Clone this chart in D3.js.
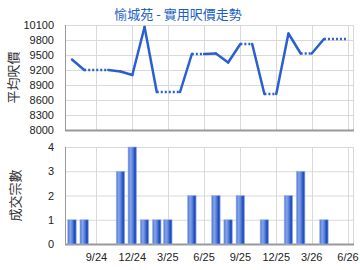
<!DOCTYPE html>
<html>
<head>
<meta charset="utf-8">
<script src="https://cdn.jsdelivr.net/npm/d3@7"></script>
<style>
  body { margin: 0; background: #fff; }
  svg { display: block; font-family: "Liberation Sans", Arial, sans-serif; }
</style>
</head>
<body>
<div id="chart"></div>
<script>
// monthly data, Jul 2024 .. Jun 2026
const months = ["2024-07","2024-08","2024-09","2024-10","2024-11","2024-12",
  "2025-01","2025-02","2025-03","2025-04","2025-05","2025-06",
  "2025-07","2025-08","2025-09","2025-10","2025-11","2025-12",
  "2026-01","2026-02","2026-03","2026-04","2026-05","2026-06"];
// average price per sq ft (null = no record that month)
const prices = [9410, 9200, null, null, 9170, 9100,
  10060, 8760, null, null, 9520, null,
  9530, 9350, 9720, null, 8720, null,
  9930, 9530, null, 9820, null, null];
// number of transactions
const deals = [1, 1, 0, 0, 3, 4,
  1, 1, 1, 0, 2, 0,
  2, 1, 2, 0, 1, 0,
  2, 3, 0, 1, 0, 0];
const priceTicks = [8000, 8300, 8600, 8900, 9200, 9500, 9800, 10100];
const dealTicks = [0, 1, 2, 3, 4];
const xTickMonths = ["2024-09","2024-12","2025-03","2025-06","2025-09","2025-12","2026-03","2026-06"];

const width = 360, height = 270;
const left = 65, right = 353;
const top1 = 25, bottom1 = 130;
const top2 = 147, bottom2 = 244;

const parse = d3.timeParse("%Y-%m");
const dates = months.map(parse);

const svg = d3.select("#chart")
  .append("svg")
    .attr("width", width)
    .attr("height", height)
    .attr("viewBox", `0 0 ${width} ${height}`);

const x = d3.scaleTime()
  .domain([dates[0], dates[dates.length - 1]])
  .range([72, 348]);

const yPrice = d3.scaleLinear().domain([8000, 10100]).range([bottom1, top1]);
const yDeals = d3.scaleLinear().domain([0, 4]).range([bottom2, top2]);

// bar gradient
const defs = svg.append("defs");
const grad = defs.append("linearGradient").attr("id", "barGrad")
  .attr("x1", "0%").attr("x2", "100%").attr("y1", "0%").attr("y2", "0%");
[["0%", "#4a74d4"], ["30%", "#86a5e8"], ["55%", "#5a80da"], ["80%", "#1f4cbc"], ["100%", "#3a66cc"]]
  .forEach(s => grad.append("stop").attr("offset", s[0]).attr("stop-color", s[1]));

// grids for both panels
function drawGrid(yScale, ticks, top, bottom) {
  const g = svg.append("g");
  g.selectAll(".hg").data(ticks).join("line")
    .attr("x1", left).attr("x2", right)
    .attr("y1", d => yScale(d) + 0.5).attr("y2", d => yScale(d) + 0.5)
    .attr("stroke", "#d9d9d9");
  g.selectAll(".vg").data(xTickMonths.map(parse)).join("line")
    .attr("x1", d => Math.round(x(d)) + 0.5).attr("x2", d => Math.round(x(d)) + 0.5)
    .attr("y1", top).attr("y2", bottom)
    .attr("stroke", "#d9d9d9");
  g.append("line").attr("x1", right + 0.5).attr("x2", right + 0.5)
    .attr("y1", top).attr("y2", bottom).attr("stroke", "#d9d9d9");
  // axes lines
  g.append("line").attr("x1", left + 0.5).attr("x2", left + 0.5)
    .attr("y1", top).attr("y2", bottom + 1).attr("stroke", "#999");
  g.append("line").attr("x1", left).attr("x2", right + 1)
    .attr("y1", bottom + 0.5).attr("y2", bottom + 0.5).attr("stroke", "#999").attr("stroke-width", 2);
  // tick labels
  g.selectAll(".yl").data(ticks).join("text")
    .attr("x", 54).attr("y", d => yScale(d) + 4)
    .attr("text-anchor", "end")
    .attr("font-size", 11)
    .attr("fill", "#222")
    .text(d => d);
}

drawGrid(yPrice, priceTicks, top1, bottom1);
drawGrid(yDeals, dealTicks, top2, bottom2);

// price line: solid between real points, dotted over carried months
const pts = dates.map((d, i) => ({ date: d, v: prices[i] }));
const segs = [];
let last = null;
pts.forEach((p, i) => {
  if (p.v !== null) {
    if (last !== null) {
      if (i - last.i > 1) {
        const carry = { date: dates[i - 1], v: last.p.v };
        segs.push({ dotted: true, pts: [last.p, carry] });
        segs.push({ dotted: false, pts: [carry, p] });
      } else {
        segs.push({ dotted: false, pts: [last.p, p] });
      }
    }
    last = { p, i };
  }
});
if (last && last.i < pts.length - 1) {
  segs.push({ dotted: true, pts: [last.p, { date: dates[pts.length - 1], v: last.p.v }] });
}

const lineGen = d3.line().x(d => x(d.date)).y(d => yPrice(d.v));
svg.append("g").selectAll("path").data(segs).join("path")
  .attr("d", d => lineGen(d.pts))
  .attr("fill", "none")
  .attr("stroke", "#2a5fcf")
  .attr("stroke-width", 2.5)
  .attr("stroke-linecap", d => d.dotted ? "butt" : "round")
  .attr("stroke-linejoin", "round")
  .attr("stroke-dasharray", d => d.dotted ? "2,2" : null);

// bars
const barW = 8.5;
svg.append("g").selectAll("rect").data(dates.map((d, i) => ({ date: d, v: deals[i] })).filter(d => d.v > 0))
  .join("rect")
    .attr("x", d => x(d.date) - barW / 2)
    .attr("y", d => yDeals(d.v))
    .attr("width", barW)
    .attr("height", d => yDeals(0) - yDeals(d.v))
    .attr("fill", "url(#barGrad)")
    .attr("stroke", "#9db4ea")
    .attr("stroke-width", 0.6);

// x labels (bottom panel)
svg.append("g").selectAll("text").data(xTickMonths.map(parse)).join("text")
  .attr("x", d => x(d))
  .attr("y", 261)
  .attr("text-anchor", "middle")
  .attr("font-size", 11)
  .attr("fill", "#222")
  .text(d => d3.timeFormat("%-m/%y")(d));

// titles
svg.append("text")
  .attr("x", 178).attr("y", 19)
  .attr("text-anchor", "middle")
  .attr("font-size", 13)
  .attr("font-family", "'Noto Sans CJK TC', sans-serif")
  .attr("fill", "#1a5fc8")
  .text("愉城苑 - 實用呎價走勢");

svg.append("text")
  .attr("transform", `translate(18, ${(top1 + bottom1) / 2}) rotate(-90)`)
  .attr("text-anchor", "middle")
  .attr("font-size", 13)
  .attr("font-family", "'Noto Sans CJK TC', sans-serif")
  .attr("fill", "#333")
  .text("平均呎價");

svg.append("text")
  .attr("transform", `translate(20, ${(top2 + bottom2) / 2}) rotate(-90)`)
  .attr("text-anchor", "middle")
  .attr("font-size", 13)
  .attr("font-family", "'Noto Sans CJK TC', sans-serif")
  .attr("fill", "#333")
  .text("成交宗數");
</script>
</body>
</html>
